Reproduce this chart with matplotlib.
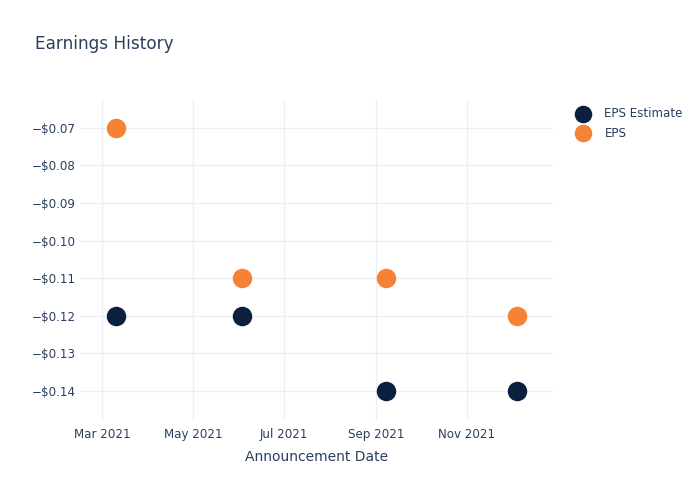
import matplotlib
matplotlib.use("Agg")
import matplotlib.pyplot as plt
import matplotlib.dates as mdates
import numpy as np
from datetime import date

# data
dates = [date(2021, 3, 10), date(2021, 6, 3), date(2021, 9, 8), date(2021, 12, 5)]
eps_estimate = [-0.12, -0.12, -0.14, -0.14]
eps_actual = [-0.07, -0.11, -0.11, -0.12]
y_ticks = [-0.07, -0.08, -0.09, -0.10, -0.11, -0.12, -0.13, -0.14]
x_ticks = [date(2021, 3, 1), date(2021, 5, 1), date(2021, 7, 1), date(2021, 9, 1), date(2021, 11, 1)]

text_col = "#2a3f5f"
grid_col = "#ebf0f8"

fig = plt.figure(figsize=(7, 5), dpi=100)
ax = fig.add_axes([80/700, 80/500, 473/700, 320/500])

s = 19.5**2 * (72/100)**2
ax.scatter(dates, eps_estimate, s=s, color="#0b1f3f", label="EPS Estimate", zorder=3, linewidths=0)
ax.scatter(dates, eps_actual, s=s, color="#f58235", label="EPS", zorder=3, linewidths=0)

ax.set_xlim(date(2021, 2, 14), date(2021, 12, 29))
ax.set_ylim(-0.1477, -0.0626)
ax.set_xticks(x_ticks)
ax.xaxis.set_major_formatter(mdates.DateFormatter("%b %Y"))
ax.set_yticks(y_ticks)
ax.set_yticklabels(["\u2212$%.2f" % abs(v) for v in y_ticks])

for sp in ax.spines.values():
    sp.set_visible(False)
ax.grid(True, color=grid_col, linewidth=1)
ax.set_axisbelow(True)
ax.tick_params(length=0, labelsize=8.6, colors=text_col)
ax.tick_params(axis="y", pad=3)
ax.tick_params(axis="x", pad=6)

ax.set_xlabel("Announcement Date", fontsize=10, color=text_col, labelpad=6)
fig.text(35/700, 1 - 44/500, "Earnings History", fontsize=12.2, color=text_col, va="center", ha="left")

leg = fig.legend(loc="upper left", bbox_to_anchor=(571/700, 1 - 107/500), frameon=False,
                 fontsize=8.6, handletextpad=0.8, labelspacing=0.55, markerscale=0.9,
                 borderaxespad=0, borderpad=0)
for t in leg.get_texts():
    t.set_color(text_col)

fig.savefig("out.png", dpi=100)
